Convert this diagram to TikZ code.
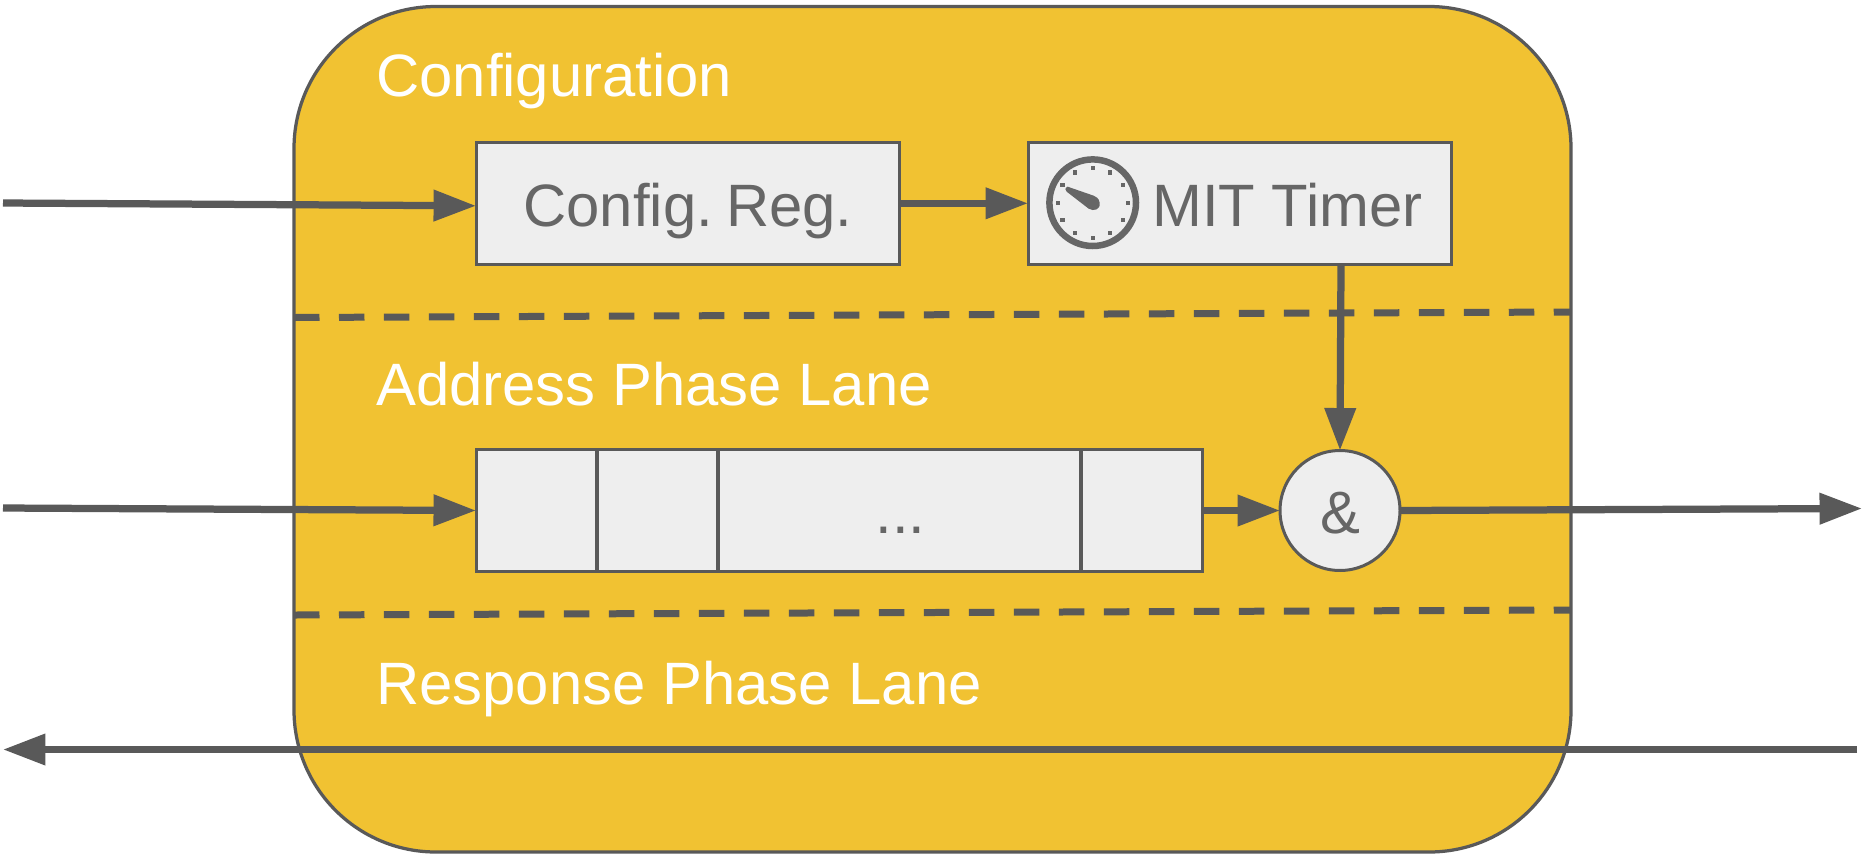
\documentclass[tikz,border=0pt]{standalone}
\usepackage{fontspec}
\setmainfont{Liberation Sans}
\usetikzlibrary{arrows.meta}
\definecolor{lane}{HTML}{F1C232}
\definecolor{wire}{HTML}{595959}
\definecolor{cell}{HTML}{EEEEEE}
\definecolor{ink}{HTML}{666666}
\begin{document}
\begin{tikzpicture}
		[	x=.02cm,y=-.02cm,
		box/.style={rectangle,draw=wire,fill=cell,line width=.06cm,inner sep=0,outer sep=0,minimum height=2.43cm,text=ink,font=\fontsize{34.05}{40}\selectfont,text height=.91cm,text depth=0pt},
		gate/.style={box,circle,minimum size=2.4cm},
		title/.style={anchor=base west,inner sep=0,text=white,font=\fontsize{34.05}{40}\selectfont},
		link/.style={draw=wire,line width=.145cm,-{Triangle[length=.85cm,width=.6cm]}},
		split/.style={draw=wire,line width=.14cm,dash pattern=on .51cm off .39cm}
		]
		\useasboundingbox (0,0) rectangle (1865,856);
		\fill[white] (0,0) rectangle (1865,856);
		\draw[wire,fill=lane,line width=.065cm,rounded corners=2.84cm] (294,6.5) rectangle (1571,852);

		\node[title] (cfgtitle) at (376,96){Configuration};
		\node[title] (addrtitle) at (376,405){Address Phase Lane};
		\node[title] (resptitle) at (376,704){Response Phase Lane};

		\node[box,minimum width=8.48cm] (cfgreg) at (688,203.3){Config.\kern-.07cm\ Reg.};
		\node[box,minimum width=8.48cm] (timer) at (1240,203.3){\hspace*{1.9cm}MIT Timer};
		\node[box,minimum width=2.42cm] (slot1) at (536.5,510.5){};
		\node[box,minimum width=2.42cm] (slot2) at (657.5,510.5){};
		\node[box,minimum width=7.26cm] (slot3) at (899.5,510.5){\hspace*{.04cm}...};
		\node[box,minimum width=2.42cm] (slot4) at (1141.5,510.5){};
		\node[gate] (andgate) at (1340,510.5){\&};

		\coordinate (cfgin) at (3,203);
		\coordinate (addrin) at (3,508);
		\coordinate (addrout) at (1862,508.5);
		\coordinate (respa) at (1857,749.5);
		\coordinate (respb) at (3,749.5);
		\coordinate (splita) at (294,317.5);
		\coordinate (splitb) at (1570,312);
		\coordinate (splitc) at (294,615);
		\coordinate (splitd) at (1570,610);

		\draw[split] (splita) -- (splitb);
		\draw[split] (splitc) -- (splitd);
		\draw[link] (cfgin) -- ([yshift=-.05cm]cfgreg.west);
		\draw[link] (cfgreg.east) -- (timer.west);
		\draw[link] ([xshift=.02cm]timer.south-|andgate.north) -- (andgate.north);
		\draw[link] (addrin) -- (slot1.west);
		\draw[link] (slot4.east) -- (andgate.west);
		\draw[link] (andgate.east) -- (addrout);
		\draw[link] (respa) -- (respb);

		\begin{scope}[shift={(1092.7,202.7)}]
			\draw[ink,line width=.13cm] (0,0) circle (43.3);
			\foreach \a in {0,30,...,330}
				\fill[ink] (\a:35) ++(-2.2,-2.2) rectangle ++(4.4,4.4);
			\fill[ink] (-25,-16) .. controls (-28,-15) and (-28,-12) .. (-26,-11) -- (-4,6) .. controls (1,9) and (8,7) .. (7,0) .. controls (6,-5) and (3,-6) .. (1,-7) -- cycle;
		\end{scope}
	\end{tikzpicture}
\end{document}
